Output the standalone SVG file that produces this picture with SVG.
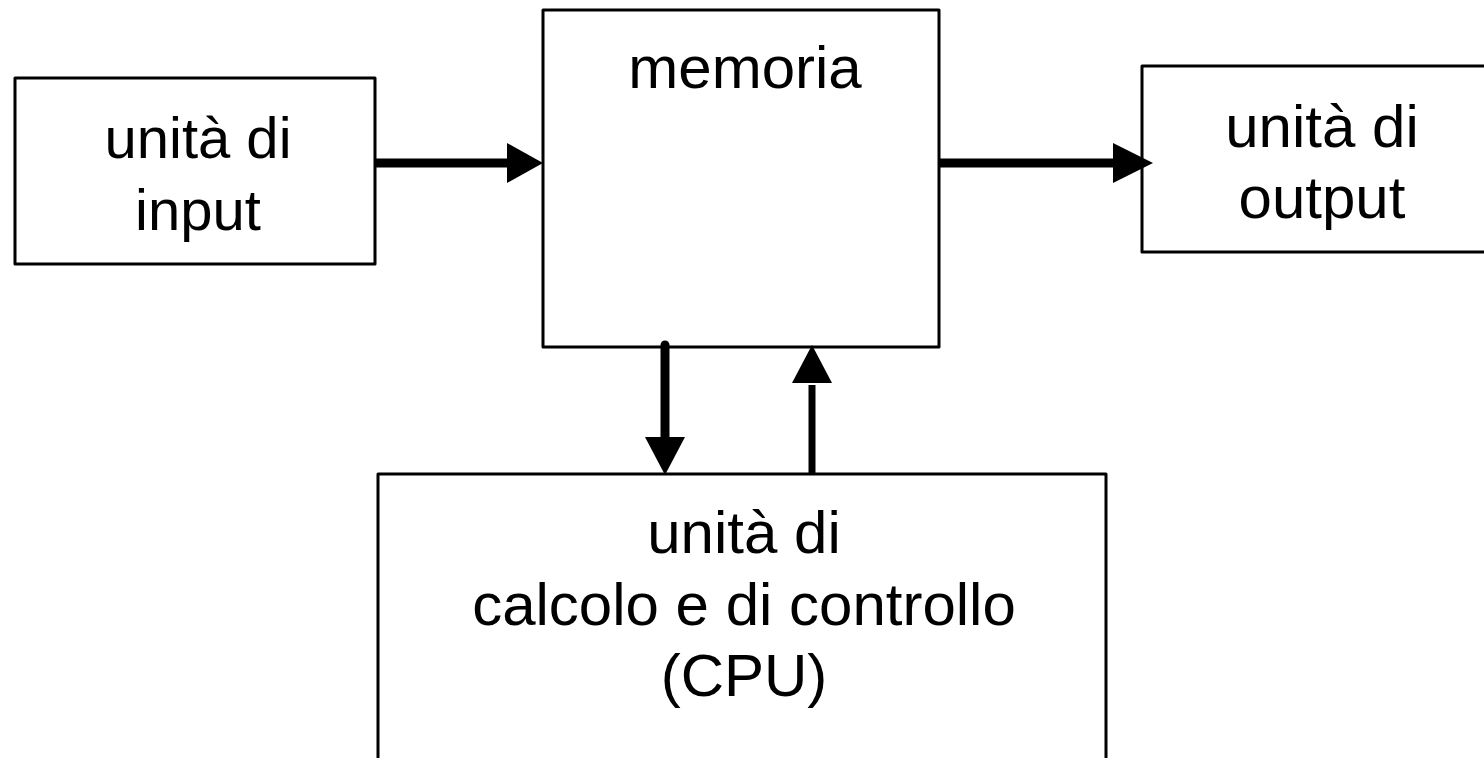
<svg xmlns="http://www.w3.org/2000/svg" width="1484" height="758" viewBox="0 0 1484 758">
<style>
.box{fill:#fff;stroke:#000;stroke-width:3;stroke-linejoin:round}
.t{font-family:"Liberation Sans",Arial,sans-serif;font-size:60px;fill:#000;text-anchor:middle}
.ln{stroke:#000;fill:none}
.hd{fill:#000;stroke:none}
</style>
<rect width="1484" height="758" fill="#fff"/>
<g id="input">
<rect class="box" x="15" y="78" width="360" height="186"/>
<text class="t" x="198" y="158" style="font-size:58px">unità di</text>
<text class="t" x="198" y="230" style="font-size:58px">input</text>
</g>
<g id="memoria">
<rect class="box" x="543" y="10" width="396" height="337"/>
<text class="t" x="745" y="88">memoria</text>
</g>
<g id="output">
<rect class="box" x="1142" y="66" width="360" height="186"/>
<text class="t" x="1322" y="147">unità di</text>
<text class="t" x="1322" y="218">output</text>
</g>
<g id="cpu">
<rect class="box" x="378" y="474" width="728" height="300"/>
<text class="t" x="744" y="553">unità di</text>
<text class="t" x="744" y="625">calcolo e di controllo</text>
<text class="t" x="744" y="696">(CPU)</text>
</g>
<g id="connectors">
<line class="ln" x1="375" y1="163" x2="510" y2="163" stroke-width="9"/>
<polygon class="hd" points="507,143 543,163 507,183"/>
<line class="ln" x1="939" y1="163" x2="1116" y2="163" stroke-width="9"/>
<polygon class="hd" points="1113,143 1153,163 1113,183"/>
<line class="ln" x1="665" y1="345" x2="665" y2="440" stroke-width="9" stroke-linecap="round"/>
<polygon class="hd" points="645,437 685,437 665,475"/>
<line class="ln" x1="812" y1="474" x2="812" y2="385" stroke-width="7"/>
<polygon class="hd" points="792,383 832,383 812,345"/>
</g>
</svg>
